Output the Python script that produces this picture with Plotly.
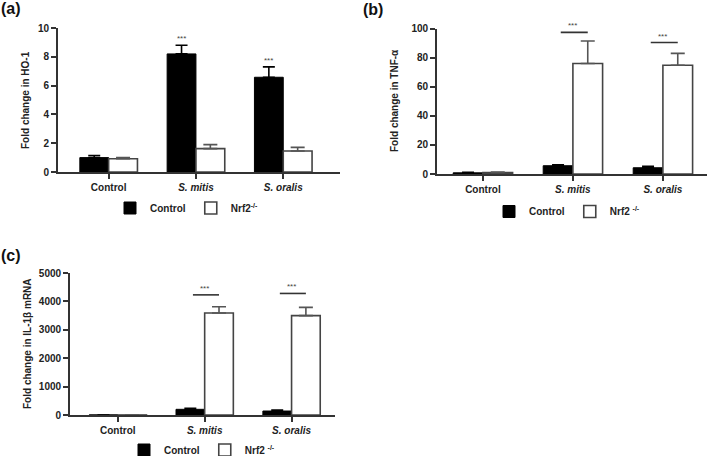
import plotly.graph_objects as go

# ---------------- data ----------------
categories = ["Control", "<i>S. mitis</i>", "<i>S. oralis</i>"]
series_names = ["Control", "Nrf2<sup>-/-</sup>", "Nrf2 <sup>-/-</sup>"]

# (a) HO-1
ho1_ctrl = [1.0, 8.2, 6.58]
ho1_ctrl_err = [0.15, 0.6, 0.72]
ho1_nrf2 = [0.92, 1.62, 1.46]
ho1_nrf2_err = [0.08, 0.28, 0.25]

# (b) TNF-alpha
tnf_ctrl = [0.8, 5.7, 4.3]
tnf_ctrl_err = [0.3, 0.7, 1.0]
tnf_nrf2 = [1.0, 76.0, 74.8]
tnf_nrf2_err = [0.3, 15.5, 8.2]
tnf_sig_y = [97.5, 90.5]          # significance bar levels (S. mitis, S. oralis)

# (c) IL-1beta
il_ctrl = [1, 200, 140]
il_ctrl_err = [0.5, 40, 30]
il_nrf2 = [1, 3590, 3500]
il_nrf2_err = [0.5, 220, 290]
il_sig_y = [4230, 4280]

sig_groups = [1, 2]
stars = "***"

# ---------------- styling ----------------
W, H = 708, 456
FONT = "Liberation Sans, Arial, sans-serif"
AX = "#333333"
TXT = "#222222"
BARGAP = 0.34
BW = (1 - BARGAP) / 2

x_idx = list(range(len(categories)))

fig = go.Figure()


def add_pair(ctrl, ctrl_err, nrf, nrf_err, xa, ya, leg, nrf_name):
    fig.add_trace(go.Bar(
        x=x_idx, y=ctrl, name=series_names[0], xaxis=xa, yaxis=ya, legend=leg,
        marker=dict(color="#000000", line=dict(color="#000000", width=1)),
        error_y=dict(type="data", symmetric=False, array=ctrl_err,
                     arrayminus=[0] * len(ctrl), color="#000000",
                     thickness=1.6, width=6),
        offsetgroup="c"))
    fig.add_trace(go.Bar(
        x=x_idx, y=nrf, name=nrf_name, xaxis=xa, yaxis=ya, legend=leg,
        marker=dict(color="#ffffff", line=dict(color="#444444", width=1.6)),
        error_y=dict(type="data", symmetric=False, array=nrf_err,
                     arrayminus=[0] * len(nrf), color="#555555",
                     thickness=1.6, width=7),
        offsetgroup="n"))


add_pair(ho1_ctrl, ho1_ctrl_err, ho1_nrf2, ho1_nrf2_err, "x", "y", "legend", series_names[1])
add_pair(tnf_ctrl, tnf_ctrl_err, tnf_nrf2, tnf_nrf2_err, "x2", "y2", "legend2", series_names[2])
add_pair(il_ctrl, il_ctrl_err, il_nrf2, il_nrf2_err, "x3", "y3", "legend3", series_names[2])


def px_x(p):
    return p / W


def px_y(p):
    return 1 - p / H


tickfont = dict(family=FONT, size=10, color=TXT, weight="bold")


def xaxis(dom, rng, anchor):
    return dict(domain=dom, range=rng, anchor=anchor, tickmode="array",
                tickvals=x_idx, ticktext=categories, showline=True,
                linecolor=AX, linewidth=1.8, ticks="outside", ticklen=5,
                tickwidth=1.5, tickcolor=AX, showgrid=False, zeroline=False,
                tickfont=tickfont, fixedrange=True, automargin=False)


def yaxis(dom, rng, dtick, anchor):
    return dict(domain=dom, range=rng, dtick=dtick, anchor=anchor,
                showline=True, linecolor=AX, linewidth=1.8, ticks="outside",
                ticklen=5, tickwidth=1.5, tickcolor=AX, showgrid=False,
                zeroline=False, tickfont=tickfont, fixedrange=True,
                automargin=False)


legend_common = dict(orientation="h", font=dict(family=FONT, size=10, color=TXT, weight="bold"),
                     bgcolor="rgba(0,0,0,0)", yanchor="middle", xanchor="left",
                     traceorder="normal")

fig.update_layout(
    width=W, height=H,
    margin=dict(l=0, r=0, t=0, b=0, pad=0, autoexpand=False),
    paper_bgcolor="white", plot_bgcolor="white",
    barmode="group", bargap=BARGAP, bargroupgap=0,
    xaxis=xaxis([px_x(58), px_x(340)], [-0.58, 2.65], "y"),
    yaxis=yaxis([px_y(172), px_y(28)], [0, 10], 2, "x"),
    xaxis2=xaxis([px_x(437), px_x(707)], [-0.51, 2.49], "y2"),
    yaxis2=yaxis([px_y(174), px_y(28.7)], [0, 100], 20, "x2"),
    xaxis3=xaxis([px_x(70), px_x(335)], [-0.55, 2.5], "y3"),
    yaxis3=yaxis([px_y(415), px_y(273)], [0, 5000], 1000, "x3"),
    legend=dict(x=px_x(110), y=px_y(208), **legend_common),
    legend2=dict(x=px_x(489), y=px_y(211.5), **legend_common),
    legend3=dict(x=px_x(124), y=px_y(450), **legend_common),
)

ann = []
# panel labels
for txt, xp, yp in [("(a)", -1, 8), ("(b)", 361, 10), ("(c)", -1, 255)]:
    ann.append(dict(text=txt, x=px_x(xp), y=px_y(yp), xref="paper", yref="paper",
                    xanchor="left", yanchor="middle", showarrow=False,
                    font=dict(family=FONT, size=16, color="#111111", weight="bold")))
# y-axis titles
for txt, xp, yc in [("Fold change in HO-1", 25, 100),
                    ("Fold change in TNF-α", 395, 101),
                    ("Fold change in IL-1β mRNA", 27, 344)]:
    ann.append(dict(text=txt, x=px_x(xp), y=px_y(yc), xref="paper", yref="paper",
                    xanchor="center", yanchor="middle", textangle=-90, showarrow=False,
                    font=dict(family=FONT, size=10, color=TXT, weight="bold")))

# stars above black bars in (a)
for g in sig_groups:
    ann.append(dict(text=stars, x=g - BW / 2, y=ho1_ctrl[g] + ho1_ctrl_err[g],
                    xref="x", yref="y", xanchor="center", yanchor="bottom",
                    yshift=0, showarrow=False,
                    font=dict(family=FONT, size=8, color="#444444")))

shapes = []
for sig_y, xr, yr in [(tnf_sig_y, "x2", "y2"), (il_sig_y, "x3", "y3")]:
    for g, yv in zip(sig_groups, sig_y):
        shapes.append(dict(type="line", xref=xr, yref=yr, x0=g - BW / 2 + 0.03,
                           x1=g + BW / 2, y0=yv, y1=yv,
                           line=dict(color="#333333", width=1.6)))
        ann.append(dict(text=stars, x=g, y=yv, xref=xr, yref=yr,
                        xanchor="center", yanchor="bottom", yshift=0,
                        showarrow=False,
                        font=dict(family=FONT, size=8, color="#444444")))

fig.update_layout(annotations=ann, shapes=shapes)

fig.write_html("out.html",
               config={"displayModeBar": False},
               post_script="document.body.style.margin='0';document.body.style.overflow='hidden';")
